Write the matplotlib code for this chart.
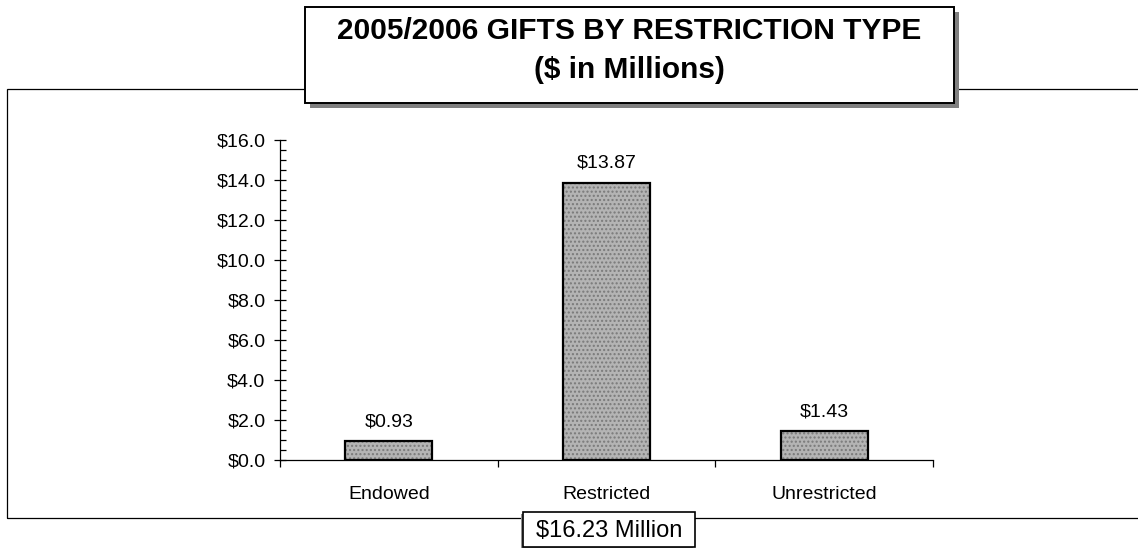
import matplotlib
matplotlib.use("Agg")
import matplotlib.pyplot as plt
from matplotlib.patches import Rectangle
from matplotlib.ticker import MultipleLocator, FixedLocator, FuncFormatter

plt.rcParams["font.family"] = ["Liberation Sans", "DejaVu Sans"]

# data ($ millions)
categories = ["Endowed", "Restricted", "Unrestricted"]
gifts = [0.93, 13.87, 1.43]
title_lines = ["2005/2006 GIFTS BY RESTRICTION TYPE", "($ in Millions)"]
total_label = "$16.23 Million"

W, H = 1138, 548
fig = plt.figure(figsize=(W / 100, H / 100), dpi=100)


def fx(px):
    return px / W


def fy(py):
    # py measured from the top of the image
    return 1 - py / H


# outer chart frame (runs off the right edge)
fig.patches.append(Rectangle((fx(7), fy(518)), fx(1150 - 7), (518 - 89) / H,
                             transform=fig.transFigure, fill=False,
                             edgecolor="black", linewidth=0.9, zorder=1))

ax = fig.add_axes([fx(280), fy(460), fx(933 - 280), (460 - 140) / H])
ax.set_facecolor("none")
x = list(range(len(categories)))

# dotted grey fill, then a black outline on top
ax.bar(x, gifts, width=0.4, color="#b4b4b4", edgecolor="#7a7a7a",
       hatch="....", linewidth=0, zorder=2)
ax.bar(x, gifts, width=0.4, fill=False, edgecolor="black", linewidth=1.6, zorder=3)

for xi, v in zip(x, gifts):
    ax.annotate(f"${v:.2f}", (xi, v), xytext=(0, 11), textcoords="offset points",
                ha="center", va="baseline", fontsize=14)

ax.set_xlim(-0.5, 2.5)
ax.set_ylim(0, 16)
for s in ["top", "right"]:
    ax.spines[s].set_visible(False)
for s in ["left", "bottom"]:
    ax.spines[s].set_linewidth(0.9)

ax.yaxis.set_major_locator(MultipleLocator(2))
ax.yaxis.set_minor_locator(MultipleLocator(0.5))
ax.yaxis.set_major_formatter(FuncFormatter(lambda v, p: f"${v:.1f}"))
ax.tick_params(axis="y", which="major", direction="inout", length=9, width=0.9,
               labelsize=14, pad=6)
ax.tick_params(axis="y", which="minor", direction="in", length=4, width=0.9)

# category separators as major ticks, names as minor tick labels
ax.xaxis.set_major_locator(FixedLocator([-0.5, 0.5, 1.5, 2.5]))
ax.xaxis.set_major_formatter(FuncFormatter(lambda v, p: ""))
ax.xaxis.set_minor_locator(FixedLocator(x))
ax.set_xticks(x, categories, minor=True)
ax.tick_params(axis="x", which="major", direction="out", length=5, width=0.9)
ax.tick_params(axis="x", which="minor", length=0, labelsize=14, pad=19)

# title box with shadow
tb_l, tb_r, tb_t, tb_b = 305, 954, 7, 103
fig.patches.append(Rectangle((fx(tb_l + 5), fy(tb_b + 5)), fx(tb_r - tb_l),
                             (tb_b - tb_t) / H, transform=fig.transFigure,
                             facecolor="#808080", edgecolor="none", zorder=4))
fig.patches.append(Rectangle((fx(tb_l), fy(tb_b)), fx(tb_r - tb_l),
                             (tb_b - tb_t) / H, transform=fig.transFigure,
                             facecolor="white", edgecolor="black", linewidth=1.4,
                             zorder=5))
fig.text(fx((tb_l + tb_r) / 2), fy(39), title_lines[0], ha="center", va="baseline",
         fontsize=21.5, fontweight="bold", zorder=6)
fig.text(fx((tb_l + tb_r) / 2), fy(78), title_lines[1], ha="center", va="baseline",
         fontsize=21.5, fontweight="bold", zorder=6)

# total box at the bottom
bx_l, bx_r, bx_t, bx_b = 523, 695, 512, 547
fig.patches.append(Rectangle((fx(bx_l - 2), fy(bx_b + 2)), fx(bx_r - bx_l),
                             (bx_b - bx_t) / H, transform=fig.transFigure,
                             facecolor="#909090", edgecolor="none", zorder=4))
fig.patches.append(Rectangle((fx(bx_l), fy(bx_b)), fx(bx_r - bx_l),
                             (bx_b - bx_t) / H, transform=fig.transFigure,
                             facecolor="white", edgecolor="black", linewidth=1.2,
                             zorder=5))
fig.text(fx((bx_l + bx_r) / 2), fy(537), total_label, ha="center", va="baseline",
         fontsize=17, zorder=6)

fig.savefig("out.png", dpi=100)
